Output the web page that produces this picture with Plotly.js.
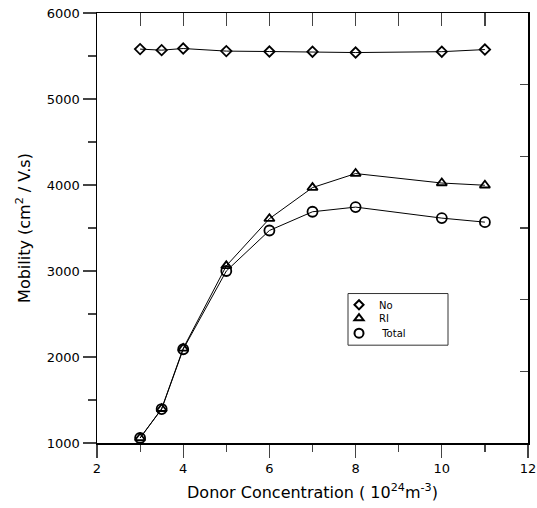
<!DOCTYPE html>
<html><head><meta charset="utf-8">
<script src="https://cdn.plot.ly/plotly-3.0.1.min.js"></script>
<style>html,body{margin:0;padding:0;background:#fff}#c{width:537px;height:508px}</style>
</head><body><div id="c"></div>
<script>
const conc = [3, 3.5, 4, 5, 6, 7, 8, 10, 11];
const mobNo = [5580, 5568, 5587, 5557, 5552, 5550, 5540, 5550, 5575];
const mobRI = [1058, 1398, 2100, 3060, 3608, 3970, 4133, 4023, 3997];
const mobTotal = [1058, 1395, 2090, 3000, 3471, 3689, 3743, 3615, 3568];
const seriesNames = ['No', 'RI', ' Total'];

const symbols = ['diamond-open', 'triangle-up-open', 'circle-open'];
const sizes = [8, 9, 10];
const ys = [mobNo, mobRI, mobTotal];
const font = 'DejaVu Sans, Verdana, sans-serif';
const legendIds = ['legend', 'legend2', 'legend3'];
const legendY = [0.3551, 0.324, 0.289];

const data = [];
ys.forEach((y, i) => {
  data.push({x: conc, y: y, mode: 'lines+markers', showlegend: false,
    line: {color: '#000', width: 1},
    marker: {symbol: symbols[i], size: sizes[i], color: '#000', line: {width: 1.8, color: '#000'}}});
});
ys.forEach((y, i) => {
  data.push({x: [null], y: [null], mode: 'markers', name: seriesNames[i], showlegend: true,
    legend: legendIds[i],
    marker: {symbol: symbols[i], size: sizes[i] - 1, color: '#000', line: {width: 2, color: '#000'}}});
});
data.push({x: [2], y: [0], xaxis: 'x2', yaxis: 'y2', mode: 'markers', showlegend: false,
  marker: {opacity: 0}, hoverinfo: 'skip'});

const layout = {
  width: 537, height: 508,
  margin: {l: 97, r: 9, t: 13, b: 65},
  paper_bgcolor: '#fff', plot_bgcolor: '#fff',
  font: {family: font, color: '#000', size: 13},
  xaxis: {range: [2, 12], dtick: 2, tick0: 2, ticks: 'outside', ticklen: 13, tickwidth: 1.2,
    showline: true, linewidth: 1.5, linecolor: '#000', showgrid: false, zeroline: false,
    tickfont: {size: 13, family: font},
    minor: {dtick: 1, ticks: 'outside', ticklen: 7, tickwidth: 1.2, showgrid: false},
    title: {text: 'Donor Concentration ( 10<sup>24</sup>m<sup>-3</sup>)', font: {size: 16, family: font}, standoff: 11}},
  yaxis: {range: [1000, 6000], dtick: 1000, ticks: 'outside', ticklen: 13, tickwidth: 1.2,
    showline: true, linewidth: 1.5, linecolor: '#000', showgrid: false, zeroline: false,
    tickfont: {size: 13, family: font},
    minor: {dtick: 500, ticks: 'outside', ticklen: 8, tickwidth: 1.2, showgrid: false},
    title: {text: 'Mobility (cm<sup>2</sup> / V.s)', font: {size: 16, family: font}, standoff: 12}},
  xaxis2: {overlaying: 'x', side: 'top', range: [2, 12], dtick: 1, tick0: 2, ticks: 'inside', ticklen: 13,
    tickwidth: 1.2, showticklabels: false, showline: true, linewidth: 1.5, linecolor: '#000',
    showgrid: false, zeroline: false},
  yaxis2: {overlaying: 'y', side: 'right', range: [0, 6], dtick: 1, ticks: 'inside', ticklen: 8,
    tickwidth: 1.2, showticklabels: false, showline: true, linewidth: 2, linecolor: '#000',
    showgrid: false, zeroline: false},
  shapes: [{type: 'rect', xref: 'paper', yref: 'paper', x0: 0.5824, x1: 0.8144, y0: 0.2275, y1: 0.3476,
    line: {color: '#333', width: 1}}]
};
legendIds.forEach((id, i) => {
  layout[id] = {x: 0.5615, y: legendY[i], xanchor: 'left', yanchor: 'top', bgcolor: 'rgba(0,0,0,0)',
    borderwidth: 0, font: {size: 10, family: font}, tracegroupgap: 0, itemwidth: 30};
});
Plotly.newPlot('c', data, layout, {displayModeBar: false, staticPlot: true});
</script></body></html>
